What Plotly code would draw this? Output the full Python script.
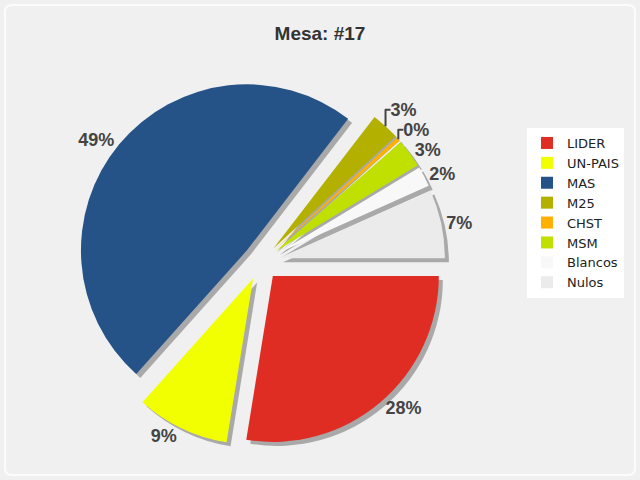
import plotly.graph_objects as go

labels = ["LIDER", "UN-PAIS", "MAS", "M25", "CHST", "MSM", "Blancos", "Nulos"]
votes = [70, 23, 124, 7, 1, 7, 5, 17]
colors = ["#e02d24", "#f2ff00", "#255388", "#b3b000", "#ffb000", "#bfe000", "#f8f8f8", "#ebebeb"]
title_text = "Mesa: #17"

W, H = 640, 480
cx, cy, r, pull = 261, 262, 166, 0.11
half = r * (1 + pull)


def dom(dx, dy):
    return dict(x=[(cx + dx - half) / W, (cx + dx + half) / W],
                y=[1 - (cy + dy + half) / H, 1 - (cy + dy - half) / H])


common = dict(labels=labels, values=votes, sort=False, direction="clockwise",
              rotation=90, pull=[pull] * len(votes))

fig = go.Figure()
# shadow
fig.add_trace(go.Pie(**common, domain=dom(4, 4), showlegend=False, textinfo="none",
                     marker=dict(colors=["#a9a9a9"] * len(votes), line=dict(width=0)),
                     hoverinfo="skip"))
# main pie
fig.add_trace(go.Pie(**common, showlegend=True, domain=dom(0, 0), hoverinfo="label+percent",
                     texttemplate="%{percent:.0%}", textposition="outside",
                     marker=dict(colors=colors, line=dict(width=0)),
                     textfont=dict(color="#444444", size=18, family="Liberation Sans", weight="bold")))

fig.update_layout(
    width=W, height=H,
    margin=dict(l=0, r=0, t=0, b=0, autoexpand=False),
    paper_bgcolor="#f0f0f0",
    title=dict(text="<b>" + title_text + "</b>", x=0.5, xanchor="center", y=1 - 33 / H,
               yanchor="middle", font=dict(family="Liberation Sans", size=19, color="#333333")),
    legend=dict(x=527 / W, xanchor="left", y=1 - 213 / H, yanchor="middle",
                bgcolor="#ffffff", bordercolor="#ffffff", borderwidth=0,
                font=dict(family="DejaVu Sans", size=13, color="#222222")),
    shapes=[dict(type="path", xref="paper", yref="paper",
                 path="M {a},{t} L {b},{t} Q {r2},{t} {r2},{t2} L {r2},{b2} Q {r2},{bt} {b},{bt} "
                      "L {a},{bt} Q {l},{bt} {l},{b2} L {l},{t2} Q {l},{t} {a},{t} Z".format(
                          l=5 / W, r2=635 / W, a=12 / W, b=628 / W,
                          t=1 - 5 / H, t2=1 - 12 / H, bt=1 - 475 / H, b2=1 - 468 / H),
                 line=dict(color="#fcfcfc", width=2), layer="below")],
)

fig.write_html("out.html")
